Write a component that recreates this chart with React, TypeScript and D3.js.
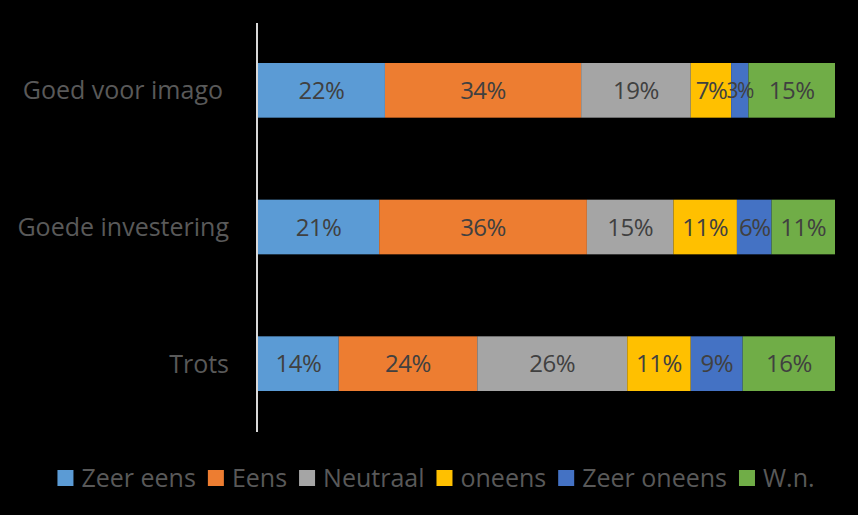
import React, { useEffect, useRef } from "react";
import * as d3 from "d3";

const categories = ["Goed voor imago", "Goede investering", "Trots"];
const seriesNames = ["Zeer eens", "Eens", "Neutraal", "oneens", "Zeer oneens", "W.n."];
const seriesColors = ["#5b9bd5", "#ed7d31", "#a5a5a5", "#ffc000", "#4472c4", "#70ad47"];
const zeerEens = [22, 21, 14];
const eens = [34, 36, 24];
const neutraal = [19, 15, 26];
const oneens = [7, 11, 11];
const zeerOneens = [3, 6, 9];
const wn = [15, 11, 16];

const W = 858;
const H = 515;
const FONT = "'Open Sans', 'Noto Sans', sans-serif";

export default function App() {
  const ref = useRef<SVGSVGElement>(null);

  useEffect(() => {
    const svg = d3.select(ref.current);
    svg.selectAll("*").remove();

    const seriesValues = [zeerEens, eens, neutraal, oneens, zeerOneens, wn];
    const rows = categories.map((c, i) => {
      const r: any = { cat: c };
      seriesNames.forEach((s, j) => (r[s] = seriesValues[j][i]));
      return r;
    });
    const stacked = d3.stack().keys(seriesNames)(rows);

    const x = d3.scaleLinear().domain([0, 100]).range([258, 835]);
    const y = d3.scaleBand().domain(categories).range([22, 432]).paddingInner(0.6).paddingOuter(0.3);

    svg.append("rect").attr("width", W).attr("height", H).attr("fill", "#000");

    const g = svg.append("g");
    stacked.forEach((layer, j) => {
      g.append("g").selectAll("rect")
        .data(layer)
        .join("rect")
        .attr("x", (d: any) => x(d[0]))
        .attr("y", (d: any) => y(d.data.cat)!)
        .attr("width", (d: any) => x(d[1]) - x(d[0]))
        .attr("height", y.bandwidth())
        .attr("fill", seriesColors[j]);
    });
    stacked.forEach((layer) => {
      g.append("g").selectAll("text")
        .data(layer)
        .join("text")
        .attr("x", (d: any) => (x(d[0]) + x(d[1])) / 2)
        .attr("y", (d: any) => y(d.data.cat)! + y.bandwidth() / 2)
        .attr("dy", "0.36em")
        .attr("text-anchor", "middle")
        .attr("fill", "#404040")
        .attr("font-family", FONT)
        .attr("font-size", (d: any) => (d[1] - d[0] < 5 ? 21 : 24))
        .attr("letter-spacing", (d: any) => (d[1] - d[0] < 8 ? -1.5 : -0.5))
        .text((d: any) => `${d[1] - d[0]}%`);
    });

    // axis line
    svg.append("line")
      .attr("x1", 257).attr("x2", 257)
      .attr("y1", 23).attr("y2", 432)
      .attr("stroke", "#d9d9d9").attr("stroke-width", 2);

    // category labels
    svg.append("g").selectAll("text")
      .data(categories)
      .join("text")
      .attr("x", (d) => (d === "Goed voor imago" ? 223 : 229))
      .attr("y", (d) => y(d)! + y.bandwidth() / 2)
      .attr("dy", "0.36em")
      .attr("text-anchor", "end")
      .attr("fill", "#595959")
      .attr("font-family", FONT)
      .attr("font-size", 25)
      .text((d) => d);

    // legend
    const leg = svg.append("g");
    const sq = 16;
    let cx = 0;
    const items: any[] = [];
    seriesNames.forEach((s, j) => {
      const it = leg.append("g");
      it.append("rect").attr("x", 0).attr("y", -8).attr("width", sq).attr("height", sq).attr("fill", seriesColors[j]);
      const t = it.append("text")
        .attr("x", sq + 8)
        .attr("y", 0)
        .attr("dy", "0.36em")
        .attr("fill", "#595959")
        .attr("font-family", FONT)
        .attr("font-size", 25)
        .text(s);
      const w = (t.node() as SVGTextElement).getComputedTextLength();
      items.push({ it, w });
    });
    items.forEach((o, j) => {
      o.it.attr("transform", `translate(${cx},0)`);
      cx += sq + 8 + o.w + (j < items.length - 1 ? 12 : 0);
    });
    const total = cx;
    leg.attr("transform", `translate(${436 - total / 2},478)`);
  }, []);

  return (
    <div style={{ position: "fixed", left: 0, top: 0 }}>
      <svg ref={ref} width={W} height={H} />
    </div>
  );
}
